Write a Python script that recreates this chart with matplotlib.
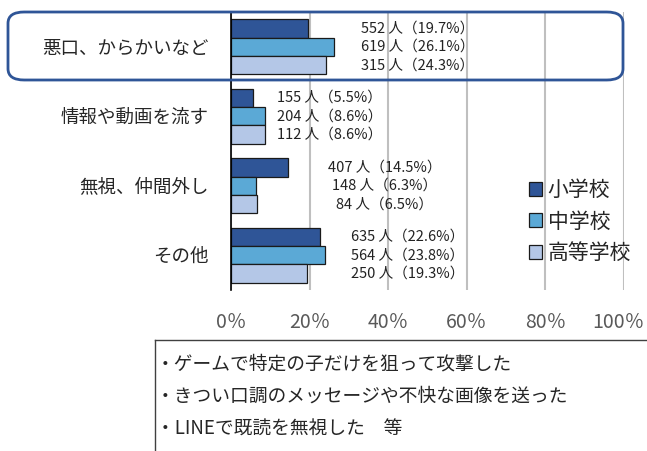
import numpy as np
import matplotlib.pyplot as plt
from matplotlib.patches import FancyBboxPatch
from matplotlib.lines import Line2D
from matplotlib.transforms import ScaledTranslation

plt.rcParams['font.family'] = ['Noto Sans CJK JP', 'DejaVu Sans']

categories = ['悪口、からかいなど', '情報や動画を流す', '無視、仲間外し', 'その他']
series = ['小学校', '中学校', '高等学校']
counts = [[552, 155, 407, 635],
          [619, 204, 148, 564],
          [315, 112, 84, 250]]
percents = [[19.7, 5.5, 14.5, 22.6],
            [26.1, 8.6, 6.3, 23.8],
            [24.3, 8.6, 6.5, 19.3]]
colors = ['#2F5597', '#5BA9D6', '#B4C7E7']
label_x = [47.5, 25.0, 39.0, 45.0]  # centre of label block, in %
xticks = [0, 20, 40, 60, 80, 100]
xticklabels = ['0％', '20％', '40％', '60％', '80％', '100％']
notes = ['・ゲームで特定の子だけを狙って攻撃した',
         '・きつい口調のメッセージや不快な画像を送った',
         '・LINEで既読を無視した　等']

fig = plt.figure(figsize=(6.47, 4.51), dpi=100)
ax = fig.add_axes([231 / 647, 1 - 290 / 451, 393 / 647, 278 / 451])

y = np.arange(len(categories))
h = 0.265
for i, s in enumerate(series):
    ax.barh(y + (i - 1) * h, percents[i], height=h, color=colors[i],
            edgecolor='#1a1a1a', linewidth=0.9, label=s, zorder=3)
    for j in range(len(categories)):
        ax.text(label_x[j], y[j] + (i - 1) * h,
                f'{counts[i][j]} 人（{percents[i][j]}%）',
                ha='center', va='center', fontsize=10.5, color='#222222', zorder=4)

ax.set_xlim(0, 100)
ax.set_ylim(3.5, -0.5)
ax.set_xticks(xticks)
ax.set_xticklabels(xticklabels, fontsize=14, color='#595959')
ax.tick_params(axis='x', length=0, pad=16)
# keep the last label inside the picture
last = ax.get_xticklabels()[-1]
last.set_transform(last.get_transform() + ScaledTranslation(-4 / 72, 0, fig.dpi_scale_trans))
ax.set_yticks(y)
ax.set_yticklabels(categories, fontsize=13.3, color='#262626')
ax.tick_params(axis='y', length=0, pad=16)
ax.grid(axis='x', color='#BFBFBF', linewidth=1.5, zorder=0)
for sp in ['top', 'right', 'bottom']:
    ax.spines[sp].set_visible(False)
ax.spines['left'].set_color('black')
ax.spines['left'].set_linewidth(1.2)
ax.spines['left'].set_zorder(5)

leg = ax.legend(loc='center left', bbox_to_anchor=(0.758, 0.246), frameon=False,
                fontsize=15, handlelength=0.65, handleheight=0.65,
                handletextpad=0.25, labelspacing=0.45, borderpad=0,
                borderaxespad=0)
for t in leg.get_texts():
    t.set_color('#262626')

# rounded highlight around first category
box = FancyBboxPatch((8 / 647, 1 - 80 / 451), 615 / 647, 68 / 451,
                     boxstyle='round,pad=0,rounding_size=0.025',
                     transform=fig.transFigure, fill=False,
                     edgecolor='#2F5597', linewidth=2, zorder=10)
fig.patches.append(box)

# note box at bottom
fig.add_artist(Line2D([155 / 647, 1], [1 - 340 / 451] * 2, color='#404040', lw=1))
fig.add_artist(Line2D([155 / 647] * 2, [0, 1 - 340 / 451], color='#404040', lw=1))
for k, line in enumerate(notes):
    fig.text(156 / 647, 1 - (364 + 32.5 * k) / 451, line, fontsize=13.5,
             color='#262626', va='center', ha='left')

fig.savefig('out.png', dpi=100)
